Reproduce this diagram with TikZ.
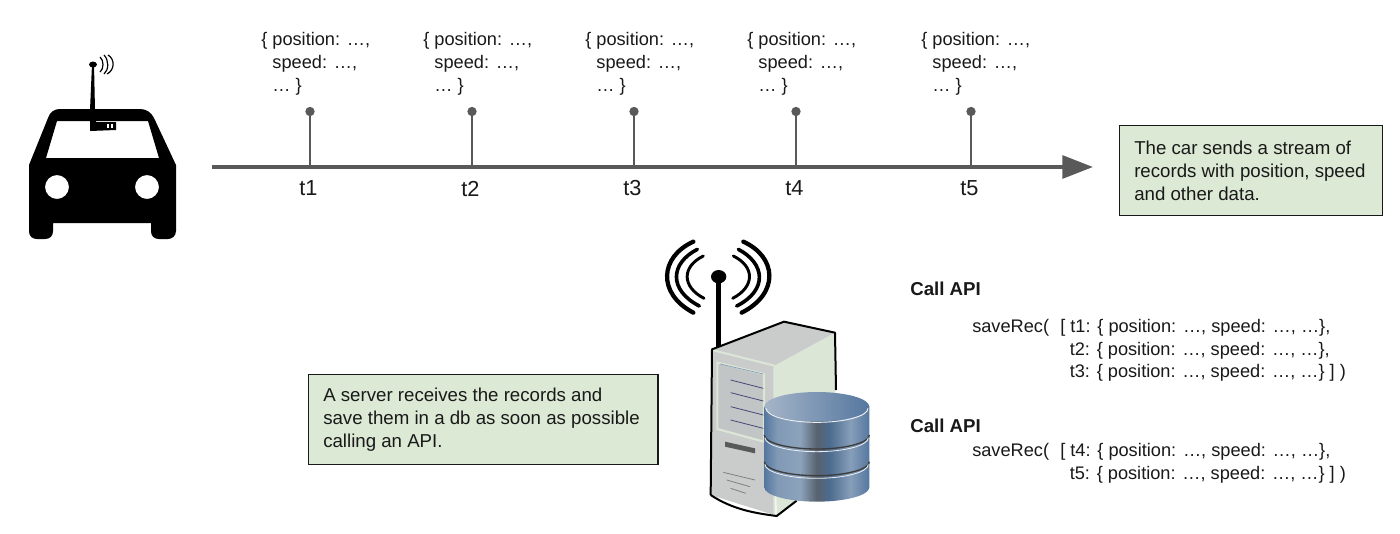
\documentclass[tikz,border=0pt]{standalone}
\usepackage{fontspec}
\setmainfont{Liberation Sans}
\usetikzlibrary{arrows.meta}
\definecolor{axisgray}{HTML}{595959}
\definecolor{notegreen}{HTML}{DCE9D5}
\definecolor{towerlight}{HTML}{C9CCCB}
\definecolor{towerside}{HTML}{DCE6D6}
\definecolor{towerpanel}{HTML}{C2C5C6}
\definecolor{dbdark}{HTML}{55779F}
\definecolor{dbmid}{HTML}{8099B5}
\definecolor{dbtop}{HTML}{A5B5C8}
\pgfdeclarehorizontalshading{dbbody}{100bp}{color(0bp)=(dbdark); color(25bp)=(dbdark); color(31bp)=(dbmid); color(42bp)=(dbmid!90!white); color(50bp)=(axisgray!70!dbdark); color(56bp)=(dbdark!90!black); color(66bp)=(dbmid!95!white); color(75bp)=(dbdark); color(100bp)=(dbdark)}
\tikzset{
  txt/.style={font=\fontsize{14pt}{17.25pt}\selectfont,inner sep=0pt,anchor=west,align=left,text=black!90},
  codetxt/.style={txt,font=\fontsize{13.65pt}{17.25pt}\selectfont},
  headtxt/.style={txt,font=\fontsize{14pt}{17pt}\selectfont\bfseries},
  tlabel/.style={font=\fontsize{16.3pt}{18pt}\selectfont,inner sep=0pt,text=black!90},
  note/.style={draw=black!90,line width=1pt,fill=notegreen},
  stem/.style={draw=axisgray,line width=0.9pt},
  dotn/.style={circle,fill=axisgray,inner sep=0pt,minimum size=7pt},
  axisline/.style={draw=axisgray,line width=3pt,-{Triangle[length=23pt,width=17pt]}},
  blackfill/.style={fill=black,draw=none},
}
\newcommand{\recnode}[3]{%
  \node[codetxt] (rec#1) at (#2,64) {\{ position: …,\\\hspace*{8.4pt}speed: …,\\\hspace*{8.4pt}… \}};
  \node[dotn] (dot#1) at (#3,111.5) {};
  \coordinate (base#1) at (#3,167);
  \draw[stem] (dot#1) -- (base#1);
  \node[tlabel] (t#1) at (#3-1.5,188.5) {t#1};
}
\begin{document}
\begin{tikzpicture}[x=0.75pt,y=-0.75pt]
\useasboundingbox (0,0) rectangle (1400,533);
\fill[white] (0,0) rectangle (1400,533);
% car
\fill[blackfill,even odd rule]
  (29,165) -- (48,118) .. controls (50,112) and (54,109) .. (60,109) -- (140,109)
  .. controls (146,109) and (151,112) .. (154,118) -- (176,165) -- (176,231)
  .. controls (176,236) and (172,239) .. (168,239) -- (159,239)
  .. controls (154,239) and (151,236) .. (151,231) -- (151,223) -- (53,223) -- (53,231)
  .. controls (53,236) and (50,239) .. (45,239) -- (37,239)
  .. controls (32,239) and (29,236) .. (29,231) -- cycle
  (57,121) -- (148,121) -- (159,158) -- (46,158) -- cycle
  (69,187) arc[start angle=0,end angle=360,radius=12]
  (159,187) arc[start angle=0,end angle=360,radius=12];
\fill[blackfill] (90,110) -- (92,64) -- (94,64) -- (95,110) -- cycle;
\fill[blackfill] (93,64.5) ellipse[x radius=4,y radius=3];
\fill[blackfill] (90,120) -- (96,120) -- (96,122) -- (116,122) -- (116,130) -- (90,131) -- cycle;
\fill[white] (107,124) rectangle (109,128);
\fill[white] (111,124) rectangle (113,128);
\draw[black,line width=0.9pt] (100,57) .. controls (104,60) and (104,69) .. (100,72);
\draw[black,line width=0.9pt] (104,55) .. controls (109,60) and (109,70) .. (104,74);
\draw[black,line width=0.9pt] (108,55) .. controls (115,59) and (115,70) .. (107,74);
% axis
\coordinate (axisstart) at (212,167);
\coordinate (axisend) at (1093,167);
\draw[axisline] (axisstart) -- (axisend);
\recnode{1}{261}{310}
\recnode{2}{423}{472}
\recnode{3}{585}{634}
\recnode{4}{747}{796}
\recnode{5}{921}{971}
% notes
\node[note,anchor=north west,minimum width=197pt,minimum height=67.5pt] (carnote) at (1119,125) {};
\node[txt] (cartext) at (1134,171) {The car sends a stream of\\records with position, speed\\and other data.};
\node[note,anchor=north west,minimum width=262pt,minimum height=67.5pt] (srvnote) at (308,374) {};
\node[txt] (srvtext) at (323,420) {A server receives the records and\\save them in a db as soon as possible\\calling an API.};
% server, in units of a 3x crop
\begin{scope}[shift={(640,230)},x=0.25pt,y=-0.25pt]
  \draw[black,line width=3.2pt,line cap=round] (160,35) .. controls (60,80) and (50,190) .. (160,248);
  \draw[black,line width=2.7pt,line cap=round] (172,58) .. controls (90,100) and (85,180) .. (178,228);
  \draw[black,line width=2.2pt,line cap=round] (190,78) .. controls (125,110) and (125,170) .. (192,205);
  \draw[black,line width=3.2pt,line cap=round] (310,35) .. controls (410,80) and (420,190) .. (305,248);
  \draw[black,line width=2.7pt,line cap=round] (295,58) .. controls (375,100) and (385,180) .. (290,228);
  \draw[black,line width=2.2pt,line cap=round] (280,78) .. controls (345,110) and (345,170) .. (278,205);
  \fill[black] (236,140) ellipse[x radius=23,y radius=20];
  \draw[black,line width=3.6pt] (236,140) -- (236,350);
  % tower
  \fill[towerside] (403,407) -- (585,308) -- (588,810) -- (470,810) -- (410,858) -- cycle;
  \fill[towerlight] (216,358) -- (432,275) -- (585,308) -- (403,407) -- cycle;
  \fill[towerlight] (216,358) -- (403,407) -- (403,855) -- (212,795) -- cycle;
  \draw[towerside,line width=1.5pt] (216,360) -- (403,407) -- (403,855);
  \fill[towerpanel,draw=towerside,line width=1.6pt] (232,398) -- (372,432) -- (372,635) -- (232,597) -- cycle;
  \draw[dbmid,line width=0.5pt] (240,402) -- (370,432);
  \foreach \yy in {450,488,530,570}{\draw[axisgray!80!blue,line width=0.6pt] (272,\yy) -- (370,\yy+25);}
  \fill[axisgray] (255,635) -- (345,655) -- (345,670) -- (300,660) -- (255,650) -- cycle;
  \draw[gray,line width=0.6pt] (250,727) -- (345,750);
  \draw[gray,line width=0.6pt] (260,750) -- (330,770);
  \draw[gray,line width=0.6pt] (272,775) -- (318,790);
  \draw[black,line width=1.5pt,line join=round] (212,795) -- (216,358) -- (432,275) -- (585,308) -- (588,480);
  \draw[black,line width=1.5pt,line join=round] (212,795) .. controls (280,840) and (350,850) .. (410,858) -- (470,812);
  % database
  \shade[shading=dbbody] (373,530) -- (373,772) arc[start angle=180,end angle=0,x radius=157.5,y radius=43] -- (688,530) -- cycle;
  \draw[axisgray!70!black,line width=1pt] (373,615) arc[start angle=180,end angle=0,x radius=157.5,y radius=42];
  \draw[white!85!dbmid,line width=0.6pt] (375,623) arc[start angle=180,end angle=0,x radius=155,y radius=42];
  \draw[axisgray!70!black,line width=1pt] (373,695) arc[start angle=180,end angle=0,x radius=157.5,y radius=42];
  \draw[white!85!dbmid,line width=0.6pt] (375,703) arc[start angle=180,end angle=0,x radius=155,y radius=42];
  \shade[left color=dbtop,right color=dbdark] (530.5,530) ellipse[x radius=157.5,y radius=44];
  \draw[white!85!dbmid,line width=0.7pt] (378,535) arc[start angle=180,end angle=0,x radius=153,y radius=42];
\end{scope}
% API calls
\node[headtxt] (call1) at (910,289) {Call API};
\node[codetxt] (save1) at (972,328) {saveRec(};
\node[codetxt] (save1a) at (1060,328) {[ t1: \{ position: …, speed: …, …\},};
\node[codetxt] (save1b) at (1069.5,350.5) {t2: \{ position: …, speed: …, …\},};
\node[codetxt] (save1c) at (1069.5,373) {t3: \{ position: …, speed: …, …\} ] )};
\node[headtxt] (call2) at (910,426) {Call API};
\node[codetxt] (save2) at (972,452) {saveRec(};
\node[codetxt] (save2a) at (1060,452) {[ t4: \{ position: …, speed: …, …\},};
\node[codetxt] (save2b) at (1069.5,474.5) {t5: \{ position: …, speed: …, …\} ] )};
\end{tikzpicture}
\end{document}
